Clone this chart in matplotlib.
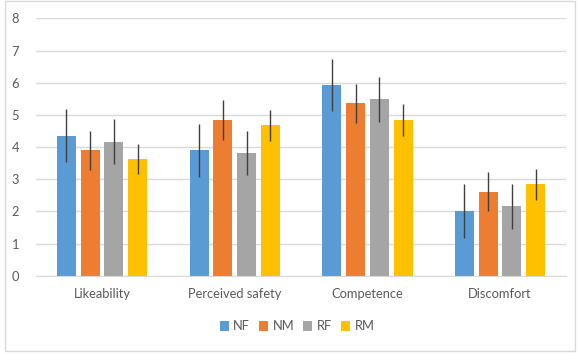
import matplotlib
matplotlib.use("Agg")
import matplotlib.pyplot as plt
from matplotlib.patches import Rectangle
import numpy as np

categories = ["Likeability", "Perceived safety", "Competence", "Discomfort"]
series_names = ["NF", "NM", "RF", "RM"]
nf = [4.35, 3.90, 5.93, 2.01]
nm = [3.90, 4.84, 5.36, 2.61]
rf = [4.17, 3.82, 5.48, 2.16]
rm = [3.63, 4.68, 4.84, 2.84]
nf_err = [0.82, 0.82, 0.82, 0.83]
nm_err = [0.61, 0.62, 0.60, 0.61]
rf_err = [0.70, 0.68, 0.69, 0.70]
rm_err = [0.48, 0.48, 0.49, 0.48]
y_ticks = [0, 1, 2, 3, 4, 5, 6, 7, 8]

colors = ["#5B9BD5", "#ED7D31", "#A5A5A5", "#FFC000"]
values = [nf, nm, rf, rm]
errors = [nf_err, nm_err, rf_err, rm_err]

plt.rcParams['font.family'] = ['Lato', 'DejaVu Sans']
fig = plt.figure(figsize=(5.78, 3.54), dpi=100)
ax = fig.add_axes([0.0618, 0.221, 0.980 - 0.0618, 0.948 - 0.221])

x = np.arange(len(categories))
width = 0.143
step = 0.179
for i, (name, vals, errs, c) in enumerate(zip(series_names, values, errors, colors)):
    pos = x + (i - 1.5) * step
    ax.bar(pos, vals, width, color=c, label=name, zorder=2)
    ax.errorbar(pos, vals, yerr=errs, fmt='none', ecolor='#3f3f3f', elinewidth=1.0,
                capsize=0, zorder=3)

ax.set_xlim(-0.5, len(categories) - 0.5)
ax.set_ylim(0, 8)
ax.set_yticks(y_ticks)
ax.set_xticks(x)
ax.set_xticklabels(categories)
ax.tick_params(axis='both', length=0, labelsize=9.3, colors='#595959')
ax.tick_params(axis='x', pad=9)
ax.tick_params(axis='y', pad=12)
for s in ['top', 'right', 'left']:
    ax.spines[s].set_visible(False)
ax.spines['bottom'].set_color('#d9d9d9')
ax.yaxis.grid(True, color='#d9d9d9', linewidth=1.0, zorder=0)
ax.set_axisbelow(True)

leg = fig.legend(loc='center', bbox_to_anchor=(297 / 578, 1 - 326.5 / 354), ncol=4,
                 frameon=False, fontsize=9.3, handlelength=0.7, handleheight=0.7,
                 handletextpad=0.35, columnspacing=0.7)
for t in leg.get_texts():
    t.set_color('#595959')

fig.patches.append(Rectangle((5 / 578, 1 - 351 / 354), 570 / 578, 350 / 354,
                             transform=fig.transFigure, fill=False,
                             edgecolor='#d9d9d9', linewidth=1.0))

fig.savefig("out.png", dpi=100)
